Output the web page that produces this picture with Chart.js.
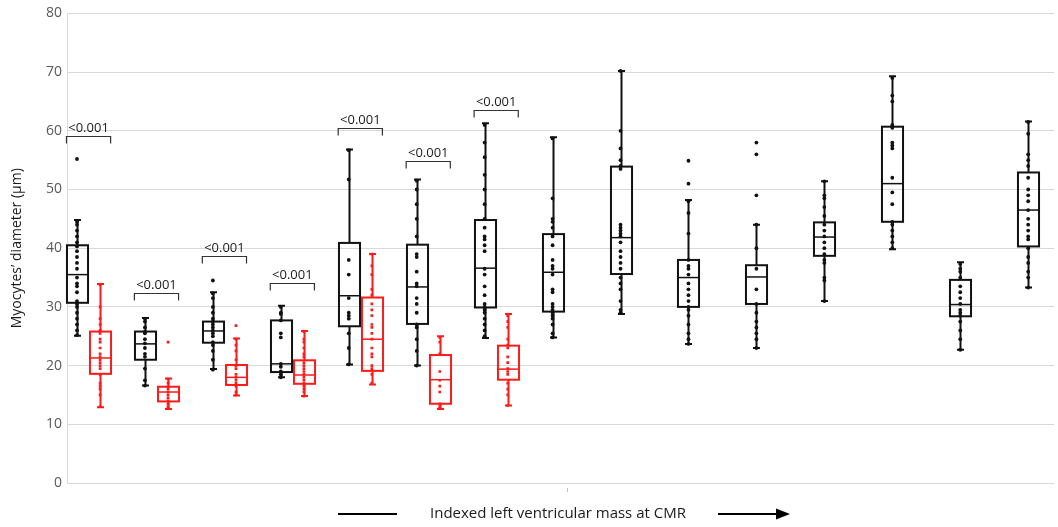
<!DOCTYPE html>
<html>
<head>
<meta charset="utf-8">
<script src="https://cdn.jsdelivr.net/npm/chart.js@4.4.1/dist/chart.umd.min.js"></script>
<style>
  html, body { margin: 0; padding: 0; background: #fff; }
  #wrap { width: 1058px; height: 527px; }
</style>
</head>
<body>
<div id="wrap"><canvas id="chart"></canvas></div>
<script>
// x positions of the groups (black = all patients per LV mass group, red = paired subgroup)
const blackPos = [1, 2, 3, 4, 5, 6, 7, 8, 9, 10, 11, 12, 13, 14, 15];
const redPos = [1.34, 2.34, 3.34, 4.34, 5.34, 6.34, 7.34];

// box stats: [whisker low, Q1, median, Q3, whisker high]
const blackStats = [
    [25.1, 30.7, 35.5, 40.5, 44.8],
    [16.6, 21.0, 23.7, 25.8, 28.1],
    [19.4, 23.9, 25.9, 27.5, 32.5],
    [18.0, 18.9, 20.3, 27.7, 30.2],
    [20.2, 26.7, 31.9, 40.9, 56.8],
    [20.0, 27.1, 33.4, 40.6, 51.7],
    [24.7, 29.9, 36.6, 44.8, 61.3],
    [24.8, 29.2, 35.9, 42.4, 58.9],
    [28.8, 35.6, 41.8, 53.9, 70.2],
    [23.7, 30.0, 35.0, 38.0, 48.2],
    [23.0, 30.5, 35.1, 37.1, 44.0],
    [31.0, 38.7, 41.9, 44.4, 51.4],
    [39.8, 44.5, 51.0, 60.7, 69.3],
    [22.7, 28.4, 30.4, 34.6, 37.6],
    [33.3, 40.3, 46.5, 52.9, 61.6]
];
const redStats = [
    [12.9, 18.6, 21.3, 25.8, 33.9],
    [12.6, 13.9, 15.5, 16.4, 17.8],
    [14.9, 16.7, 18.0, 20.1, 24.6],
    [14.8, 16.9, 18.4, 20.9, 25.9],
    [16.8, 19.1, 24.5, 31.6, 39.0],
    [12.6, 13.5, 17.6, 21.8, 25.0],
    [13.2, 17.6, 19.4, 23.4, 28.8]
];

const blackPoints = [
    [55.2, 44.5, 44, 43, 42, 41, 40.3, 39.5, 38.5, 37.5, 36.5, 35, 34, 33.5, 32.5, 31, 30.5, 30, 29, 28, 27, 26, 25.2],
    [28, 27.5, 26.5, 25.8, 25.5, 24.5, 23.8, 23, 22, 21.5, 19.5, 17.5, 16.6],
    [34.5, 32.3, 31.5, 30, 29, 28, 27.5, 27, 26.5, 26, 25.5, 25, 24, 23.5, 22.5, 21, 19.3],
    [30, 29, 28.8, 27.7, 25.5, 24.8, 20.3, 19.8, 19, 18.5, 18],
    [56.7, 51.7, 38, 35.5, 31.5, 29, 28.5, 28, 25.5, 23, 20.2],
    [51.5, 50, 47.5, 45, 42, 39, 38.5, 36, 34, 33.5, 31.5, 30.5, 29, 27, 26.5, 24.5, 22.5, 20],
    [61, 58, 55.5, 52.5, 50, 47.5, 45, 43.5, 42, 41.5, 40.5, 39.5, 36.5, 35.5, 33.5, 32, 30.5, 30, 29.5, 29, 28, 27, 26, 25],
    [58.7, 48.5, 45, 44.5, 43.5, 42, 40.5, 38, 37, 36.5, 35.5, 33, 32.5, 30.5, 30, 29.5, 29, 28.5, 28, 27, 25.5, 24.8],
    [70.2, 60, 57, 55, 54, 53.5, 44, 43.5, 43, 42.5, 42, 41, 39.5, 38.5, 37.5, 36.5, 35, 34, 33, 31, 29.5, 29],
    [54.9, 51, 48, 46, 42.5, 38, 37, 36.5, 35.5, 34, 33, 32, 31, 30, 29.5, 28.5, 27, 25.5, 24.5, 23.7],
    [58, 56, 49, 44, 40, 36.5, 33, 30.5, 29, 27.5, 26.5, 25.5, 24.5, 23],
    [51.4, 49, 48.5, 47, 45.5, 44, 43, 42, 41, 40, 39, 38, 37.5, 35, 34.5, 31],
    [69, 66, 65, 61, 60.5, 58, 57.5, 57, 52, 49.5, 47.5, 44.5, 44, 43, 42, 41, 40],
    [37.3, 36.5, 36, 35, 33.5, 32.5, 31.5, 30.5, 29.5, 29, 28.5, 27.5, 26, 24.5, 22.7],
    [61.5, 59.5, 56, 55, 54, 52, 50, 49, 48, 46.5, 45, 44, 43, 42, 41.5, 40, 38.5, 37.5, 36, 35, 33.3]
];
const redPoints = [
    [33.8, 30, 28, 27, 26, 25.5, 24.5, 24, 23, 22, 21.5, 21, 20.5, 20, 19.5, 18.5, 17, 16.5, 16, 15, 13],
    [24, 17.7, 17, 16.4, 16, 15.5, 15, 14.5, 14, 13.5, 13, 12.7],
    [26.8, 24.5, 23.5, 22.5, 21, 20, 19.5, 18.5, 18, 17.5, 17, 16.5, 15.5, 15],
    [25.8, 24.5, 24, 23, 22, 21.5, 20.5, 20, 19.5, 19, 18.5, 18, 17.5, 17, 16.5, 16, 15.5, 14.8],
    [39, 37, 35.5, 33, 32, 30.5, 29.5, 28.5, 27, 26.5, 25.5, 24.5, 23, 22, 21.5, 20, 19.5, 18.5, 17],
    [24.8, 24, 22, 19, 17.5, 16.5, 15.5, 13.5, 13, 12.7],
    [28.5, 27.5, 26.5, 24.5, 23.5, 23, 21.5, 20.5, 19.5, 19, 18.5, 17, 16, 15, 13.2]
];

// significance brackets between black and red box of groups 1-7
const pLabels = ['<0.001', '<0.001', '<0.001', '<0.001', '<0.001', '<0.001', '<0.001'];
const pBracketY = [59.1, 32.4, 38.6, 34.1, 60.4, 54.9, 63.6];

const yTicks = [0, 10, 20, 30, 40, 50, 60, 70, 80];
const yTitle = 'Myocytes\u2019 diameter (\u00b5m)';
const xCaption = 'Indexed left ventricular mass at CMR';

const BLACK = '#111111';
const RED = '#ff1a1a';
const BOX_W = 0.31;   // box width in x units
const FONT = '"Open Sans", "Noto Sans", sans-serif';

function toXY(posArr, pointsArr) {
    return pointsArr.flatMap((vals, i) => vals.map(v => ({ x: posArr[i], y: v })));
}

const boxPlugin = {
    id: 'boxes',
    beforeDatasetsDraw(chart) {
        const { ctx, scales: { x, y } } = chart;
        const half = (x.getPixelForValue(1 + BOX_W) - x.getPixelForValue(1)) / 2;
        const cap = 3.5;

        function drawBox(pos, s, color) {
            const cx = Math.round(x.getPixelForValue(pos)) + 0.5;
            const [lo, q1, med, q3, hi] = s.map(v => y.getPixelForValue(v));
            ctx.save();
            ctx.strokeStyle = color;
            ctx.lineWidth = 2;
            // whiskers
            ctx.beginPath();
            ctx.moveTo(cx, hi); ctx.lineTo(cx, q3);
            ctx.moveTo(cx, q1); ctx.lineTo(cx, lo);
            ctx.moveTo(cx - cap, hi); ctx.lineTo(cx + cap, hi);
            ctx.moveTo(cx - cap, lo); ctx.lineTo(cx + cap, lo);
            ctx.stroke();
            // box
            ctx.strokeRect(cx - half, q3, half * 2, q1 - q3);
            // median
            ctx.lineWidth = 1.5;
            ctx.beginPath();
            ctx.moveTo(cx - half, med); ctx.lineTo(cx + half, med);
            ctx.stroke();
            ctx.restore();
        }

        blackStats.forEach((s, i) => drawBox(blackPos[i], s, BLACK));
        redStats.forEach((s, i) => drawBox(redPos[i], s, RED));
    }
};

const annotationPlugin = {
    id: 'annotations',
    afterDatasetsDraw(chart) {
        const { ctx, scales: { x, y } } = chart;
        ctx.save();
        // p-value brackets
        ctx.strokeStyle = '#333333';
        ctx.lineWidth = 1.2;
        ctx.fillStyle = '#1a1a1a';
        ctx.font = '13px ' + FONT;
        ctx.textAlign = 'center';
        ctx.textBaseline = 'bottom';
        pLabels.forEach((label, i) => {
            const x0 = x.getPixelForValue(blackPos[i] - BOX_W / 2);
            const x1 = x.getPixelForValue(redPos[i] + BOX_W / 2);
            const yy = Math.round(y.getPixelForValue(pBracketY[i])) + 0.5;
            ctx.beginPath();
            ctx.moveTo(x0, yy + 7); ctx.lineTo(x0, yy);
            ctx.lineTo(x1, yy); ctx.lineTo(x1, yy + 7);
            ctx.stroke();
            ctx.fillText(label, (x0 + x1) / 2, yy - 2);
        });

        // small centre tick under the axis
        ctx.strokeStyle = '#bfbfbf';
        ctx.lineWidth = 1;
        ctx.beginPath();
        ctx.moveTo(567.5, 488); ctx.lineTo(567.5, 492);
        ctx.stroke();

        // caption with arrow under the plot
        const cy = 514;
        ctx.font = '15px ' + FONT;
        ctx.textBaseline = 'middle';
        ctx.textAlign = 'left';
        ctx.fillStyle = '#1a1a1a';
        ctx.fillText(xCaption, 430, cy);
        ctx.strokeStyle = '#000';
        ctx.lineWidth = 2;
        ctx.beginPath();
        ctx.moveTo(338, cy); ctx.lineTo(397, cy);
        ctx.moveTo(718, cy); ctx.lineTo(778, cy);
        ctx.stroke();
        ctx.fillStyle = '#000';
        ctx.beginPath();
        ctx.moveTo(790, cy); ctx.lineTo(776, cy - 5.5); ctx.lineTo(776, cy + 5.5);
        ctx.closePath();
        ctx.fill();
        ctx.restore();
    }
};

new Chart(document.getElementById('chart'), {
    type: 'scatter',
    data: {
        datasets: [
            {
                label: 'all',
                data: toXY(blackPos, blackPoints),
                backgroundColor: BLACK,
                borderColor: BLACK,
                pointStyle: 'circle',
                pointRadius: 1.9,
                borderWidth: 0
            },
            {
                label: 'subgroup',
                data: toXY(redPos, redPoints),
                backgroundColor: RED,
                borderColor: RED,
                pointStyle: 'rect',
                pointRadius: 1.9,
                borderWidth: 0
            }
        ]
    },
    options: {
        responsive: true,
        maintainAspectRatio: false,
        animation: false,
        layout: { padding: { top: 4, right: 0, bottom: 44, left: 0 } },
        plugins: {
            legend: { display: false },
            tooltip: { enabled: false }
        },
        scales: {
            x: {
                type: 'linear',
                display: false,
                min: 0.853,
                max: 15.38
            },
            y: {
                min: 0,
                max: 80,
                afterBuildTicks: (scale) => { scale.ticks = yTicks.map(v => ({ value: v })); },
                afterFit: (scale) => { scale.width = 67; },
                grid: { color: '#d9d9d9', lineWidth: 1, drawTicks: false },
                border: { display: true, color: '#d9d9d9' },
                ticks: {
                    color: '#595959',
                    padding: 5,
                    font: { family: FONT, size: 14 }
                },
                title: {
                    display: true,
                    text: yTitle,
                    color: '#1a1a1a',
                    padding: { top: 9, bottom: 0 },
                    font: { family: FONT, size: 14 }
                }
            }
        }
    },
    plugins: [boxPlugin, annotationPlugin]
});
</script>
</body>
</html>
